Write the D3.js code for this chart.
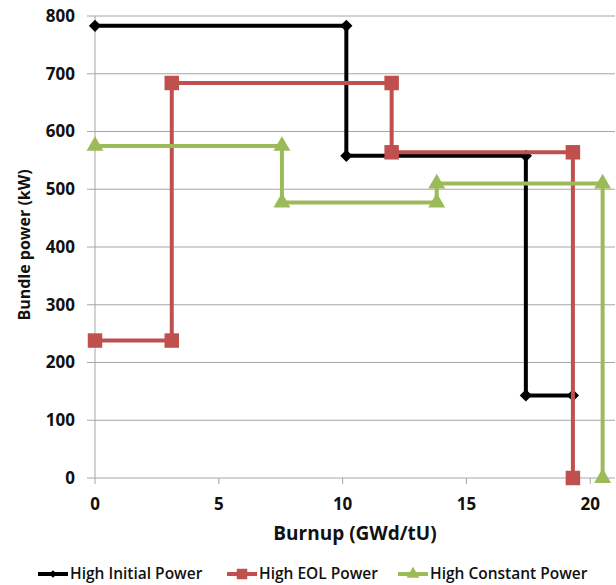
<!DOCTYPE html>
<html><head><meta charset="utf-8">
<script src="https://cdn.jsdelivr.net/npm/d3@7"></script>
<style>body{margin:0;background:#fff;}svg{display:block;}</style>
</head><body><svg id="c" width="616" height="585"></svg>
<script>
const seriesNames = ["High Initial Power", "High EOL Power", "High Constant Power"];
const seriesColors = ["#000000", "#C0504D", "#9BBB59"];
const seriesMarkers = ["diamond", "square", "triangle"];
const initialX = [0, 10.15, 10.15, 17.4, 17.4, 19.3];
const initialY = [783, 783, 558, 558, 143, 143];
const eolX = [0, 3.1, 3.1, 11.98, 11.98, 19.3, 19.3];
const eolY = [238, 238, 684, 684, 564, 564, 0];
const constX = [0, 7.55, 7.55, 13.8, 13.8, 20.5, 20.5];
const constY = [575, 575, 477, 477, 510, 510, 0];
const xTicks = [0, 5, 10, 15, 20];
const yTicks = [0, 100, 200, 300, 400, 500, 600, 700, 800];

const seriesX = [initialX, eolX, constX];
const seriesY = [initialY, eolY, constY];

const svg = d3.select("#c");
const x = d3.scaleLinear().domain([0, 21]).range([95, 615]);
const y = d3.scaleLinear().domain([0, 800]).range([478, 16]);
const font = "'Open Sans', sans-serif";

// gridlines
svg.append("g").selectAll("line").data(yTicks).join("line")
  .attr("x1", x(0) - 8).attr("x2", 615)
  .attr("y1", d => y(d)).attr("y2", d => y(d))
  .attr("stroke", "#a6a6a6").attr("stroke-width", 1);

// y axis line
svg.append("line").attr("x1", x(0)).attr("x2", x(0)).attr("y1", y(800)).attr("y2", y(0))
  .attr("stroke", "#a6a6a6").attr("stroke-width", 1);

// x ticks
svg.append("g").selectAll("line").data(xTicks).join("line")
  .attr("x1", d => x(d)).attr("x2", d => x(d))
  .attr("y1", y(0)).attr("y2", y(0) + 6)
  .attr("stroke", "#a6a6a6").attr("stroke-width", 1);

// y tick labels
svg.append("g").selectAll("text").data(yTicks).join("text")
  .attr("x", 75).attr("y", d => y(d)).attr("dy", "0.35em")
  .attr("text-anchor", "end").attr("font-family", font).attr("font-weight", "bold")
  .attr("font-size", 17).attr("fill", "#111").text(d => d);

// x tick labels
svg.append("g").selectAll("text").data(xTicks).join("text")
  .attr("x", d => x(d)).attr("y", 504).attr("dy", "0.35em")
  .attr("text-anchor", "middle").attr("font-family", font).attr("font-weight", "bold")
  .attr("font-size", 17).attr("fill", "#111").text(d => d);

// axis titles
svg.append("text").attr("x", 355).attr("y", 533).attr("dy", "0.35em")
  .attr("text-anchor", "middle").attr("font-family", font).attr("font-weight", "bold")
  .attr("font-size", 19).attr("fill", "#111").text("Burnup (GWd/tU)");
svg.append("text").attr("transform", "translate(24,245) rotate(-90)").attr("dy", "0.35em")
  .attr("text-anchor", "middle").attr("font-family", font).attr("font-weight", "bold")
  .attr("font-size", 16).attr("fill", "#111").text("Bundle power (kW)");

const symType = {diamond: d3.symbolSquare, square: d3.symbolSquare, triangle: d3.symbolTriangle};
const symRot = {diamond: 45, square: 0, triangle: 0};
const symSize = {diamond: 75, square: 210, triangle: 125};

const line = d3.line().x(d => x(d[0])).y(d => y(d[1]));
seriesNames.forEach((name, i) => {
  const pts = seriesX[i].map((v, j) => [v, seriesY[i][j]]);
  const g = svg.append("g");
  g.append("path").attr("d", line(pts)).attr("fill", "none")
    .attr("stroke", seriesColors[i]).attr("stroke-width", 4);
  const m = seriesMarkers[i];
  const sym = d3.symbol().type(symType[m]).size(symSize[m]);
  g.selectAll("path.m").data(pts).join("path").attr("class", "m")
    .attr("transform", d => `translate(${x(d[0])},${y(d[1])}) rotate(${symRot[m]})`)
    .attr("d", sym()).attr("fill", seriesColors[i]);
});

// legend
const legendX = [38, 227, 398];
seriesNames.forEach((name, i) => {
  const g = svg.append("g").attr("transform", `translate(${legendX[i]},574)`);
  g.append("line").attr("x1", 0).attr("x2", 30).attr("y1", 0).attr("y2", 0)
    .attr("stroke", seriesColors[i]).attr("stroke-width", 4);
  const m = seriesMarkers[i];
  const sz = {diamond: 30, square: 110, triangle: 70}[m];
  g.append("path").attr("transform", `translate(15,0) rotate(${symRot[m]})`)
    .attr("d", d3.symbol().type(symType[m]).size(sz)()).attr("fill", seriesColors[i]);
  g.append("text").attr("x", 32).attr("y", 0).attr("dy", "0.35em")
    .attr("font-family", font).attr("font-weight", 600).attr("font-size", 15.5).attr("fill", "#111").text(name);
});
</script></body></html>
